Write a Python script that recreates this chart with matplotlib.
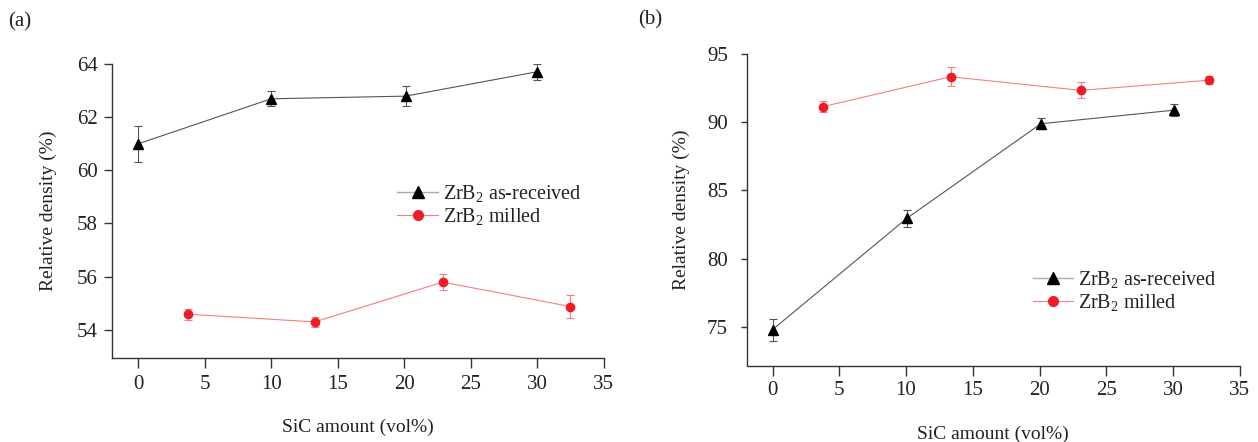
import matplotlib
matplotlib.use("Agg")
import matplotlib.pyplot as plt
from matplotlib.lines import Line2D

# ---- data ----
# Panel (a)
a_recv_x = [0, 10, 20.1, 30]
a_recv_y = [61.0, 62.7, 62.8, 63.72]
a_recv_err = [0.68, 0.28, 0.38, 0.3]
a_mill_x = [3.76, 13.28, 22.9, 32.48]
a_mill_y = [54.58, 54.29, 55.79, 54.87]
a_mill_err = [0.2, 0.18, 0.3, 0.42]
# Panel (b)
b_recv_x = [0, 10.05, 20.1, 30.1]
b_recv_y = [74.78, 82.95, 89.9, 90.9]
b_recv_err = [0.8, 0.6, 0.4, 0.45]
b_mill_x = [3.75, 13.34, 23.1, 32.7]
b_mill_y = [91.15, 93.35, 92.35, 93.1]
b_mill_err = [0.4, 0.7, 0.58, 0.3]

xticks = [0, 5, 10, 15, 20, 25, 30, 35]
a_yticks = [54, 56, 58, 60, 62, 64]
b_yticks = [75, 80, 85, 90, 95]
label_recv = r"ZrB$_2$ as-received"
label_mill = r"ZrB$_2$ milled"
xlabel = "SiC amount (vol%)"
ylabel = "Relative density (%)"

plt.rcParams['font.family'] = ['Liberation Serif', 'DejaVu Serif']
plt.rcParams['mathtext.fontset'] = 'custom'
plt.rcParams['mathtext.rm'] = 'Liberation Serif'
plt.rcParams['mathtext.default'] = 'regular'

fig = plt.figure(figsize=(12.58, 4.42), dpi=100)
ax_a = fig.add_axes([0.0893, 1 - 358 / 442, 0.480 - 0.0893, (358 - 64.3) / 442])
ax_b = fig.add_axes([0.5936, 1 - 365.5 / 442, 0.9855 - 0.5936, (365.5 - 54.3) / 442])

black_line = '#555555'
red_line = '#f08080'
red_mark = '#ee1c25'
txt = '#222222'

def draw(ax, rx, ry, re, mx, my, me, ylim, yticks, legend_anchor,
         xpad, ypad, ylen, xlabpad, ylabpad):
    ax.errorbar(rx, ry, yerr=re, color=black_line, lw=0.8, marker='^', ms=7,
                mfc='black', mec='black', ecolor='#555555', elinewidth=0.8,
                capsize=3, capthick=0.8)
    ax.errorbar(mx, my, yerr=me, color=red_line, lw=0.8, marker='o', ms=6,
                mfc=red_mark, mec=red_mark, ecolor=red_line, elinewidth=0.8,
                capsize=3, capthick=0.8)
    ax.set_xlim(-1.93, 35)
    ax.set_ylim(*ylim)
    ax.set_xticks(xticks)
    ax.set_yticks(yticks)
    for s in ['top', 'right']:
        ax.spines[s].set_visible(False)
    for s in ['left', 'bottom']:
        ax.spines[s].set_color('#333333')
        ax.spines[s].set_linewidth(1.0)
    ax.tick_params(axis='x', direction='out', length=7, width=1.0, color='#333333',
                   labelsize=15, labelcolor=txt, pad=xpad)
    ax.tick_params(axis='y', direction='out', length=ylen, width=1.0, color='#333333',
                   labelsize=15, labelcolor=txt, pad=ypad)
    ax.set_xlabel(xlabel, fontsize=14, color=txt, labelpad=xlabpad)
    ax.set_ylabel(ylabel, fontsize=14, color=txt, labelpad=ylabpad)
    handles = [
        Line2D([], [], color='#aaaaaa', lw=1.0, marker='^', ms=8, mfc='black', mec='black'),
        Line2D([], [], color=red_line, lw=0.8, marker='o', ms=7, mfc=red_mark, mec=red_mark),
    ]
    leg = ax.legend(handles, [label_recv, label_mill], loc='upper left',
                    bbox_to_anchor=legend_anchor, frameon=False,
                    fontsize=14.5, handlelength=2.0, handletextpad=0.25,
                    labelspacing=0.1, borderaxespad=0, borderpad=0)
    for t in leg.get_texts():
        t.set_color(txt)

draw(ax_a, a_recv_x, a_recv_y, a_recv_err, a_mill_x, a_mill_y, a_mill_err,
     (52.93, 64), a_yticks, (0.58, 0.595), 5, 5, 5.5, 18, 14)
draw(ax_b, b_recv_x, b_recv_y, b_recv_err, b_mill_x, b_mill_y, b_mill_err,
     (72.15, 95), b_yticks, (0.58, 0.31), 4.5, 9, 4.5, 18.5, 12)

fig.text(8 / 1258, 1 - 22 / 442, "(a)", fontsize=15, va='center', ha='left', color=txt)
fig.text(638 / 1258, 1 - 20 / 442, "(b)", fontsize=15, va='center', ha='left', color=txt)

fig.savefig("out.png", dpi=100)
